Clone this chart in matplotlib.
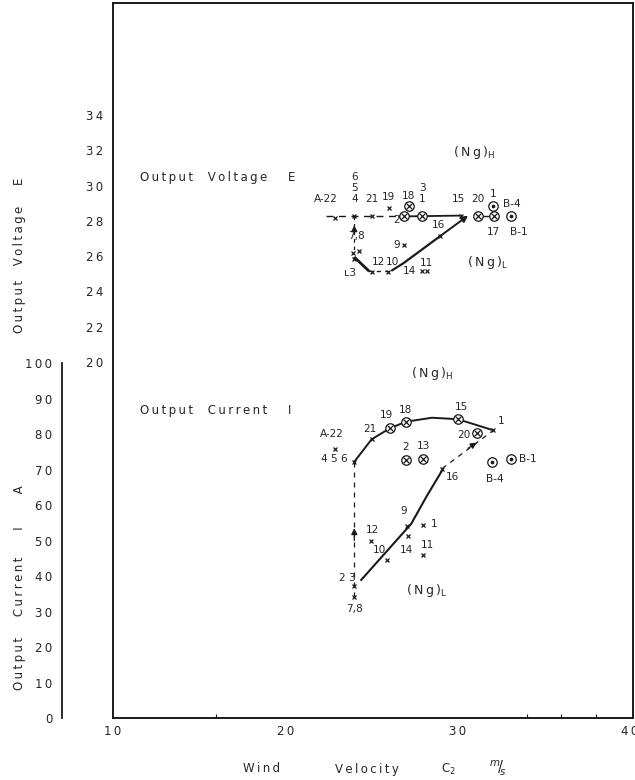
import matplotlib
matplotlib.use("Agg")
import matplotlib.pyplot as plt

plt.rcParams['font.family'] = ['DejaVu Sans']

# ---------------- data ----------------
x_ticks = [10, 20, 30, 40]
x_minor = [16, 30, 34, 36, 38]
v_ticks = [20, 22, 24, 26, 28, 30, 32, 34]
i_ticks = [0, 10, 20, 30, 40, 50, 60, 70, 80, 90, 100]
i_minor = [20, 70]

# Output voltage E  (V) : cross markers
v_cross_lbl = ["A-22", "4", "21", "19", "15", "16", "9", "7,8", "", "12", "10", "11", "", "ʟ3"]
v_cross_x = [22.9, 24.0, 25.0, 26.0, 30.2, 29.0, 26.9, 23.9, 24.3, 25.05, 25.95, 27.95, 28.2, 24.0]
v_cross_y = [28.15, 28.25, 28.25, 28.75, 28.3, 27.15, 26.65, 26.2, 26.3, 25.1, 25.1, 25.15, 25.15, 25.85]
# circled-cross markers
v_otimes_lbl = ["18", "2", "1", "20", "17"]
v_otimes_x = [27.15, 26.9, 27.95, 31.15, 32.1]
v_otimes_y = [28.85, 28.25, 28.25, 28.3, 28.3]
# circled-dot markers
v_odot_lbl = ["B-4", "B-1"]
v_odot_x = [32.05, 33.1]
v_odot_y = [28.85, 28.3]
# curves (Ng)_H and (Ng)_L
v_h_dash_x = [22.35, 26.6]
v_h_dash_y = [28.25, 28.25]
v_h_solid_x = [26.6, 30.2]
v_h_solid_y = [28.25, 28.3]
v_h_tail_x = [31.15, 32.1]
v_h_tail_y = [28.3, 28.3]
v_l1_x = [24.05, 24.8]
v_l1_y = [25.9, 25.2]
v_l2_x = [24.8, 26.2]
v_l2_y = [25.15, 25.15]
v_l3_x = [26.2, 26.85, 29.0, 30.6]
v_l3_y = [25.2, 25.6, 27.15, 28.3]
v_vert_x = [24.0, 24.0]
v_vert_y = [28.25, 26.3]

# Output current I (A)
i_cross_lbl = ["A-22", "4 5 6", "21", "1", "16", "9", "1", "14", "12", "10", "11", "2 3", "7,8"]
i_cross_x = [22.9, 24.0, 25.0, 32.05, 29.1, 27.05, 28.0, 27.1, 24.95, 25.9, 28.0, 24.0, 24.0]
i_cross_y = [75.8, 72.2, 78.5, 81.1, 70.3, 54.2, 54.5, 51.4, 49.8, 44.5, 45.8, 37.3, 34.0]
i_otimes_lbl = ["19", "18", "15", "20", "2", "13"]
i_otimes_x = [26.05, 27.0, 30.0, 31.1, 27.0, 28.0]
i_otimes_y = [81.6, 83.5, 84.2, 80.2, 72.8, 73.1]
i_odot_lbl = ["B-4", "B-1"]
i_odot_x = [32.0, 33.1]
i_odot_y = [72.2, 73.1]
i_h_x = [24.0, 25.0, 26.05, 27.0, 28.5, 30.0, 32.05]
i_h_y = [72.2, 78.5, 81.6, 83.5, 84.6, 84.2, 81.1]
i_dash_x = [29.1, 32.0]
i_dash_y = [70.3, 80.8]
i_l_x = [24.4, 27.3, 28.2, 29.1]
i_l_y = [38.9, 54.7, 62.5, 69.8]
i_vert_x = [24.0, 24.0]
i_vert_y = [72.2, 34.0]

# ---------------- layout ----------------
W, H = 635, 780
fig = plt.figure(figsize=(W / 100, H / 100), dpi=100)
L, R, T, B = 113, 633, 3, 718
pos = [L / W, (H - B) / H, (R - L) / W, (B - T) / H]
ink = '#1a1a1a'
txt = '#262626'
TS = '\u2009'


def sp(s):
    return TS.join(s)


ax = fig.add_axes(pos)
ax.set_xlim(10, 40.17)
# voltage scale: 20 V at y=362 px, 17.64 px per volt
VPX, V20 = 17.64, 362
ax.set_ylim(20 - (B - V20) / VPX, 20 + (V20 - T) / VPX)
for s in ax.spines.values():
    s.set_linewidth(1.4)
    s.set_color(ink)
ax.set_xticks(x_ticks)
ax.set_xticklabels([sp(str(t)) for t in x_ticks])
ax.set_xticks(x_minor, minor=True)
ax.set_yticks(v_ticks)
ax.set_yticklabels([sp(str(t)) for t in v_ticks])
ax.tick_params(axis='both', which='major', length=0, labelsize=8.5, colors=txt)
ax.tick_params(axis='x', which='major', pad=5)
ax.tick_params(axis='y', which='major', pad=7)
ax.tick_params(axis='x', which='minor', length=3, width=0.8, direction='in', colors=ink)

axi = fig.add_axes(pos)
axi.patch.set_visible(False)
axi.set_xlim(ax.get_xlim())
# current scale: 0 A at y=718 px, 3.549 px per ampere
IPX, I0 = 3.549, 718
axi.set_ylim(-(B - I0) / IPX, (I0 - T) / IPX)
for k in ['top', 'right', 'bottom']:
    axi.spines[k].set_visible(False)
axi.spines['left'].set_position(('outward', 51 * 0.72))
axi.spines['left'].set_bounds(0, 100)
axi.spines['left'].set_linewidth(1.3)
axi.spines['left'].set_color(ink)
axi.set_xticks([])
axi.set_yticks(i_ticks)
axi.set_yticklabels([sp(str(t)) for t in i_ticks])
axi.set_yticks(i_minor, minor=True)
axi.tick_params(axis='y', which='major', length=0, labelsize=8.5, pad=7, colors=txt)
axi.tick_params(axis='y', which='minor', length=3, width=0.8, direction='in', colors=ink)


def crosses(a, xs, ys):
    a.plot(xs, ys, ls='none', marker='x', ms=3.2, mew=0.9, color=ink, zorder=4)


def otimes(a, xs, ys):
    a.plot(xs, ys, ls='none', marker='o', ms=6.8, mfc='white', mec=ink, mew=0.9, zorder=5)
    a.plot(xs, ys, ls='none', marker='x', ms=4.2, mew=0.9, color=ink, zorder=6)


def odots(a, xs, ys):
    a.plot(xs, ys, ls='none', marker='o', ms=6.8, mfc='white', mec=ink, mew=0.9, zorder=5)
    a.plot(xs, ys, ls='none', marker='o', ms=1.7, color=ink, zorder=6)


def arrow(a, p0, p1, lw=1.2):
    a.annotate('', xy=p1, xytext=p0,
               arrowprops=dict(arrowstyle='-|>', color=ink, lw=lw,
                               mutation_scale=9, shrinkA=0, shrinkB=0))


def labels(a, names, xs, ys, offs, fs=7.6):
    for n, x, y, (dx, dy) in zip(names, xs, ys, offs):
        if n:
            a.annotate(n, (x, y), xytext=(dx * 0.72, dy * 0.72), textcoords='offset points',
                       ha='center', va='center', fontsize=fs, color=txt)


# ---------- voltage part ----------
ax.plot(v_h_dash_x, v_h_dash_y, color=ink, lw=1.0, ls=(0, (5, 4)))
ax.plot(v_h_solid_x, v_h_solid_y, color=ink, lw=1.3)
ax.plot(v_h_tail_x, v_h_tail_y, color=ink, lw=1.0)
ax.plot(v_l1_x, v_l1_y, color=ink, lw=2.0)
ax.plot(v_l2_x, v_l2_y, color=ink, lw=1.0, ls=(0, (3, 3)))
ax.plot(v_l3_x[:-1], v_l3_y[:-1], color=ink, lw=1.6)
arrow(ax, (v_l3_x[-2], v_l3_y[-2]), (v_l3_x[-1], v_l3_y[-1]), lw=1.4)
ax.plot(v_vert_x, v_vert_y, color=ink, lw=0.9, ls=(0, (3, 3)))
arrow(ax, (24.0, 27.3), (24.0, 27.75), lw=0.9)

crosses(ax, v_cross_x, v_cross_y)
otimes(ax, v_otimes_x, v_otimes_y)
odots(ax, v_odot_x, v_odot_y)

v_cross_off = [(-9, 19), (0, 17), (0, 17), (0, 11), (-3, 17), (-2, 11), (-8, 0), (4, 17), (0, 0),
               (6, 10), (5, 10), (4, 8), (0, 0), (-4, -14)]
labels(ax, v_cross_lbl, v_cross_x, v_cross_y, v_cross_off)
labels(ax, ["5", "6"], [24.0, 24.0], [28.25, 28.25], [(0, 28), (0, 39)])
v_ot_off = [(0, 10), (-8, -4), (0, 17), (0, 17), (0, -16)]
labels(ax, v_otimes_lbl, v_otimes_x, v_otimes_y, v_ot_off)
labels(ax, ["3"], [27.95], [28.25], [(0, 28)])
labels(ax, ["1"], [32.05], [28.85], [(0, 12)])
labels(ax, v_odot_lbl, v_odot_x, v_odot_y, [(19, 2), (8, -16)])
labels(ax, ["14"], [26.85], [25.6], [(6, -8)])

ax.text(11.57, 30.45, sp("Output  Voltage   E"), fontsize=8.5, color=txt, va='center')
ax.text(29.75, 31.85, sp("(Ng)") + "$_{\\mathregular{H}}$", fontsize=9, color=txt, va='center')
ax.text(30.55, 25.65, sp("(Ng)") + "$_{\\mathregular{L}}$", fontsize=9, color=txt, va='center')

# ---------- current part ----------
axi.plot(i_h_x, i_h_y, color=ink, lw=1.4)
axi.plot(i_dash_x, i_dash_y, color=ink, lw=0.9, ls=(0, (4, 4)))
arrow(axi, (30.6, 76.0), (31.1, 77.6), lw=0.9)
axi.plot(i_l_x, i_l_y, color=ink, lw=1.5)
axi.plot(i_vert_x, i_vert_y, color=ink, lw=0.9, ls=(0, (4, 4)))
arrow(axi, (24.0, 50.0), (24.0, 53.5), lw=0.9)

crosses(axi, i_cross_x, i_cross_y)
otimes(axi, i_otimes_x, i_otimes_y)
odots(axi, i_odot_x, i_odot_y)

i_cross_off = [(-3, 15), (-20, 3), (-2, 10), (8, 9), (10, -8), (-3, 15), (11, 1), (-1, -14),
               (2, 11), (-8, 10), (4, 10), (-7, 8), (0, -12)]
labels(axi, i_cross_lbl, i_cross_x, i_cross_y, i_cross_off)
i_ot_off = [(-3, 13), (0, 12), (4, 12), (-13, -2), (0, 13), (0, 13)]
labels(axi, i_otimes_lbl, i_otimes_x, i_otimes_y, i_ot_off)
labels(axi, i_odot_lbl, i_odot_x, i_odot_y, [(3, -17), (17, 0)])

axi.text(11.57, 86.6, sp("Output  Current   I"), fontsize=8.5, color=txt, va='center')
axi.text(27.3, 97.0, sp("(Ng)") + "$_{\\mathregular{H}}$", fontsize=9, color=txt, va='center')
axi.text(27.0, 35.8, sp("(Ng)") + "$_{\\mathregular{L}}$", fontsize=9, color=txt, va='center')

# ---------- axis titles ----------
fig.text(20 / W, 1 - 255 / H, sp("Output  Voltage   E"), rotation=90, ha='center', va='center',
         fontsize=8.5, color=txt)
fig.text(20 / W, 1 - 588 / H, sp("Output   Current    I     A"), rotation=90, ha='center',
         va='center', fontsize=8.5, color=txt)
fig.text(262 / W, 1 - 769 / H, sp("Wind"), ha='center', va='center', fontsize=8.5, color=txt)
fig.text(367 / W, 1 - 769 / H, sp("Velocity"), ha='center', va='center', fontsize=8.5, color=txt)
fig.text(448 / W, 1 - 769 / H, "C$_2$", ha='center', va='center', fontsize=8.5, color=txt)
fig.text(498 / W, 1 - 768 / H, "$^{m}\\!/\\!_{s}$", ha='center', va='center', fontsize=10.5,
         color=txt)

fig.savefig("out.png", dpi=100)
